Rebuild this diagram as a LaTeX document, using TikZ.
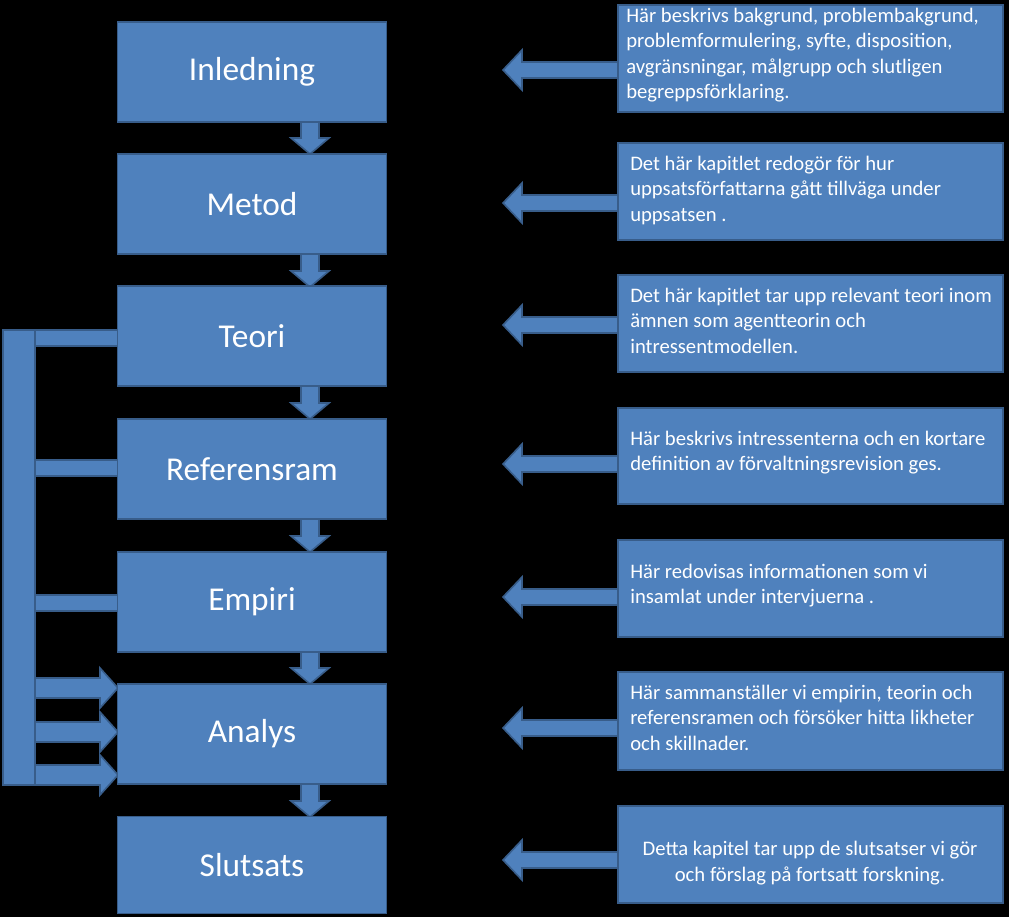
\documentclass[tikz,border=0pt]{standalone}
\usepackage{fontspec}
\setmainfont{Carlito}
\begin{document}
\begin{tikzpicture}[x=0.75pt,y=-0.75pt,
  blk/.style={fill=blu,draw=bord,line width=1.2pt},
  main/.style={blk,minimum width=269*0.75pt,minimum height=100*0.75pt,text=white,font=\fontsize{25}{30}\selectfont},
  desc/.style={text=white,font=\fontsize{15.5}{19}\selectfont,align=left,inner sep=0pt}]
\definecolor{blu}{HTML}{4F81BD}\definecolor{bord}{HTML}{385D8A}
\fill[black] (0,0) rectangle (1009,917);
\useasboundingbox (0,0) rectangle (1009,917);
% down arrows
\foreach \a/\b in {122/154,254/287,386/419,519/552,652/684,784/817}{
  \filldraw[blk] (301,\a) -- (319,\a) -- (319,\b-16) -- (329,\b-16) -- (310,\b) -- (291,\b-16) -- (301,\b-16) -- cycle;}
% left arrows
\foreach \y in {70,203,325,464,597,728,860}{
  \filldraw[blk] (620,\y-8) -- (522,\y-8) -- (522,\y-20) -- (503,\y) -- (522,\y+20) -- (522,\y+8) -- (620,\y+8) -- cycle;}
% left bar and connectors
\foreach \y in {338,468,603}{\filldraw[blk] (30,\y-8) rectangle (120,\y+8);}
\foreach \y in {688,732,775}{
  \filldraw[blk] (30,\y-10) -- (100,\y-10) -- (100,\y-20) -- (118,\y) -- (100,\y+20) -- (100,\y+10) -- (30,\y+10) -- cycle;}
\filldraw[blk] (3,330) rectangle (35,785);
% main boxes
\node[main] (inl) at (252,72) {Inledning};
\node[main] (met) at (252,204) {Metod};
\node[main] (teo) at (252,336) {Teori};
\node[main] (ref) at (252,469) {Referensram};
\node[main] (emp) at (252,602) {Empiri};
\node[main] (ana) at (252,734) {Analys};
\node[main,minimum height=97*0.75pt] (slu) at (252,865) {Slutsats};
% descriptions
\filldraw[blk] (618,5) rectangle (1003,112);
\node[desc,anchor=north west] (d1) at (626,8) {Här beskrivs bakgrund, problembakgrund,\\problemformulering, syfte, disposition,\\avgränsningar, målgrupp och slutligen\\begreppsförklaring.};
\filldraw[blk] (618,143) rectangle (1003,240);
\node[desc,anchor=north west] (d2) at (630,156) {Det här kapitlet redogör för hur\\uppsatsförfattarna gått tillväga under\\uppsatsen .};
\filldraw[blk] (618,275) rectangle (1003,372);
\node[desc,anchor=north west] (d3) at (630,288) {Det här kapitlet tar upp relevant teori inom\\ämnen som agentteorin  och\\intressentmodellen.};
\filldraw[blk] (618,408) rectangle (1003,504);
\node[desc,anchor=north west] (d4) at (630,431) {Här beskrivs  intressenterna och en kortare\\definition av förvaltningsrevision ges.};
\filldraw[blk] (618,540) rectangle (1003,637);
\node[desc,anchor=north west] (d5) at (630,564) {Här redovisas informationen som vi\\insamlat under  intervjuerna .};
\filldraw[blk] (618,672) rectangle (1003,770);
\node[desc,anchor=north west] (d6) at (630,685) {Här sammanställer vi empirin, teorin och\\referensramen och försöker  hitta likheter\\och skillnader.};
\filldraw[blk] (618,806) rectangle (1003,903);
\node[desc,align=center] (d7) at (810,863) {Detta kapitel tar upp de slutsatser vi gör\\och förslag på fortsatt forskning.};
\end{tikzpicture}
\end{document}
